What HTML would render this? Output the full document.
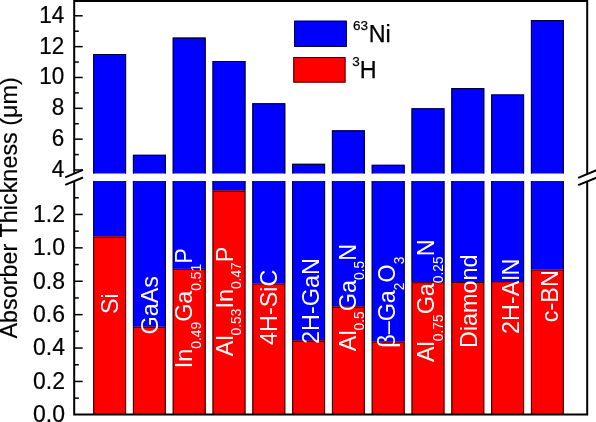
<!DOCTYPE html>
<html><head><meta charset="utf-8"><title>Absorber Thickness</title>
<style>
html,body{margin:0;padding:0;background:#fff;}
svg{display:block;font-family:"Liberation Sans", Arial, sans-serif;}
</style></head><body>
<svg width="596" height="422" viewBox="0 0 596 422">
<rect x="0" y="0" width="596" height="422" fill="#fff"/>
<rect x="93.10" y="54.00" width="33.0" height="119.50" fill="#0000ff"/>
<path d="M93.65 173.5 V54.55 H125.55 V173.5" fill="none" stroke="#000038" stroke-width="1.1"/>
<rect x="93.10" y="181.0" width="33.0" height="55.40" fill="#0000ff"/>
<path d="M93.65 181.0 V236.40 M125.55 181.0 V236.40" fill="none" stroke="#000038" stroke-width="1.1"/>
<rect x="93.10" y="236.40" width="33.0" height="178.20" fill="#ff0000"/>
<path d="M93.65 414.6 V236.95 H125.55 V414.6" fill="none" stroke="#380000" stroke-width="1.1"/>
<rect x="132.90" y="154.80" width="33.0" height="18.70" fill="#0000ff"/>
<path d="M133.45 173.5 V155.35 H165.35 V173.5" fill="none" stroke="#000038" stroke-width="1.1"/>
<rect x="132.90" y="181.0" width="33.0" height="145.80" fill="#0000ff"/>
<path d="M133.45 181.0 V326.80 M165.35 181.0 V326.80" fill="none" stroke="#000038" stroke-width="1.1"/>
<rect x="132.90" y="326.80" width="33.0" height="87.80" fill="#ff0000"/>
<path d="M133.45 414.6 V327.35 H165.35 V414.6" fill="none" stroke="#380000" stroke-width="1.1"/>
<rect x="172.70" y="37.60" width="33.0" height="135.90" fill="#0000ff"/>
<path d="M173.25 173.5 V38.15 H205.15 V173.5" fill="none" stroke="#000038" stroke-width="1.1"/>
<rect x="172.70" y="181.0" width="33.0" height="87.90" fill="#0000ff"/>
<path d="M173.25 181.0 V268.90 M205.15 181.0 V268.90" fill="none" stroke="#000038" stroke-width="1.1"/>
<rect x="172.70" y="268.90" width="33.0" height="145.70" fill="#ff0000"/>
<path d="M173.25 414.6 V269.45 H205.15 V414.6" fill="none" stroke="#380000" stroke-width="1.1"/>
<rect x="212.50" y="61.00" width="33.0" height="112.50" fill="#0000ff"/>
<path d="M213.05 173.5 V61.55 H244.95 V173.5" fill="none" stroke="#000038" stroke-width="1.1"/>
<rect x="212.50" y="181.0" width="33.0" height="9.60" fill="#0000ff"/>
<path d="M213.05 181.0 V190.60 M244.95 181.0 V190.60" fill="none" stroke="#000038" stroke-width="1.1"/>
<rect x="212.50" y="190.60" width="33.0" height="224.00" fill="#ff0000"/>
<path d="M213.05 414.6 V191.15 H244.95 V414.6" fill="none" stroke="#380000" stroke-width="1.1"/>
<rect x="252.30" y="103.20" width="33.0" height="70.30" fill="#0000ff"/>
<path d="M252.85 173.5 V103.75 H284.75 V173.5" fill="none" stroke="#000038" stroke-width="1.1"/>
<rect x="252.30" y="181.0" width="33.0" height="102.50" fill="#0000ff"/>
<path d="M252.85 181.0 V283.50 M284.75 181.0 V283.50" fill="none" stroke="#000038" stroke-width="1.1"/>
<rect x="252.30" y="283.50" width="33.0" height="131.10" fill="#ff0000"/>
<path d="M252.85 414.6 V284.05 H284.75 V414.6" fill="none" stroke="#380000" stroke-width="1.1"/>
<rect x="292.10" y="163.80" width="33.0" height="9.70" fill="#0000ff"/>
<path d="M292.65 173.5 V164.35 H324.55 V173.5" fill="none" stroke="#000038" stroke-width="1.1"/>
<rect x="292.10" y="181.0" width="33.0" height="159.60" fill="#0000ff"/>
<path d="M292.65 181.0 V340.60 M324.55 181.0 V340.60" fill="none" stroke="#000038" stroke-width="1.1"/>
<rect x="292.10" y="340.60" width="33.0" height="74.00" fill="#ff0000"/>
<path d="M292.65 414.6 V341.15 H324.55 V414.6" fill="none" stroke="#380000" stroke-width="1.1"/>
<rect x="331.90" y="130.30" width="33.0" height="43.20" fill="#0000ff"/>
<path d="M332.45 173.5 V130.85 H364.35 V173.5" fill="none" stroke="#000038" stroke-width="1.1"/>
<rect x="331.90" y="181.0" width="33.0" height="125.60" fill="#0000ff"/>
<path d="M332.45 181.0 V306.60 M364.35 181.0 V306.60" fill="none" stroke="#000038" stroke-width="1.1"/>
<rect x="331.90" y="306.60" width="33.0" height="108.00" fill="#ff0000"/>
<path d="M332.45 414.6 V307.15 H364.35 V414.6" fill="none" stroke="#380000" stroke-width="1.1"/>
<rect x="371.70" y="164.80" width="33.0" height="8.70" fill="#0000ff"/>
<path d="M372.25 173.5 V165.35 H404.15 V173.5" fill="none" stroke="#000038" stroke-width="1.1"/>
<rect x="371.70" y="181.0" width="33.0" height="160.50" fill="#0000ff"/>
<path d="M372.25 181.0 V341.50 M404.15 181.0 V341.50" fill="none" stroke="#000038" stroke-width="1.1"/>
<rect x="371.70" y="341.50" width="33.0" height="73.10" fill="#ff0000"/>
<path d="M372.25 414.6 V342.05 H404.15 V414.6" fill="none" stroke="#380000" stroke-width="1.1"/>
<rect x="411.50" y="108.20" width="33.0" height="65.30" fill="#0000ff"/>
<path d="M412.05 173.5 V108.75 H443.95 V173.5" fill="none" stroke="#000038" stroke-width="1.1"/>
<rect x="411.50" y="181.0" width="33.0" height="101.20" fill="#0000ff"/>
<path d="M412.05 181.0 V282.20 M443.95 181.0 V282.20" fill="none" stroke="#000038" stroke-width="1.1"/>
<rect x="411.50" y="282.20" width="33.0" height="132.40" fill="#ff0000"/>
<path d="M412.05 414.6 V282.75 H443.95 V414.6" fill="none" stroke="#380000" stroke-width="1.1"/>
<rect x="451.30" y="88.10" width="33.0" height="85.40" fill="#0000ff"/>
<path d="M451.85 173.5 V88.65 H483.75 V173.5" fill="none" stroke="#000038" stroke-width="1.1"/>
<rect x="451.30" y="181.0" width="33.0" height="101.00" fill="#0000ff"/>
<path d="M451.85 181.0 V282.00 M483.75 181.0 V282.00" fill="none" stroke="#000038" stroke-width="1.1"/>
<rect x="451.30" y="282.00" width="33.0" height="132.60" fill="#ff0000"/>
<path d="M451.85 414.6 V282.55 H483.75 V414.6" fill="none" stroke="#380000" stroke-width="1.1"/>
<rect x="491.10" y="94.40" width="33.0" height="79.10" fill="#0000ff"/>
<path d="M491.65 173.5 V94.95 H523.55 V173.5" fill="none" stroke="#000038" stroke-width="1.1"/>
<rect x="491.10" y="181.0" width="33.0" height="100.10" fill="#0000ff"/>
<path d="M491.65 181.0 V281.10 M523.55 181.0 V281.10" fill="none" stroke="#000038" stroke-width="1.1"/>
<rect x="491.10" y="281.10" width="33.0" height="133.50" fill="#ff0000"/>
<path d="M491.65 414.6 V281.65 H523.55 V414.6" fill="none" stroke="#380000" stroke-width="1.1"/>
<rect x="530.90" y="20.10" width="33.0" height="153.40" fill="#0000ff"/>
<path d="M531.45 173.5 V20.65 H563.35 V173.5" fill="none" stroke="#000038" stroke-width="1.1"/>
<rect x="530.90" y="181.0" width="33.0" height="88.40" fill="#0000ff"/>
<path d="M531.45 181.0 V269.40 M563.35 181.0 V269.40" fill="none" stroke="#000038" stroke-width="1.1"/>
<rect x="530.90" y="269.40" width="33.0" height="145.20" fill="#ff0000"/>
<path d="M531.45 414.6 V269.95 H563.35 V414.6" fill="none" stroke="#380000" stroke-width="1.1"/>
<text transform="translate(117.50,314) rotate(-90) scale(1,1.04)" font-size="23.4" fill="#fff">Si</text>
<text transform="translate(158.10,334.5) rotate(-90) scale(1,1.04)" font-size="23.4" fill="#fff">GaAs</text>
<text transform="translate(191.90,368.2) rotate(-90) scale(1,1.04)" font-size="23.4" fill="#fff">In<tspan font-size="13.8" dy="8.6">0.49</tspan><tspan dy="-8.6">Ga</tspan><tspan font-size="13.8" dy="8.6">0.51</tspan><tspan dy="-8.6">P</tspan></text>
<text transform="translate(232.50,356.2) rotate(-90) scale(1,1.04)" font-size="23.4" fill="#fff">Al<tspan font-size="13.8" dy="8.6">0.53</tspan><tspan dy="-8.6">In</tspan><tspan font-size="13.8" dy="8.6">0.47</tspan><tspan dy="-8.6">P</tspan></text>
<text transform="translate(276.50,345) rotate(-90) scale(1,1.04)" font-size="23.4" fill="#fff">4H-SiC</text>
<text transform="translate(318.80,344) rotate(-90) scale(1,1.04)" font-size="23.4" fill="#fff">2H-GaN</text>
<text transform="translate(355.50,351.2) rotate(-90) scale(1,1.04)" font-size="23.4" fill="#fff">Al<tspan font-size="13.8" dy="8.6">0.5</tspan><tspan dy="-8.6">Ga</tspan><tspan font-size="13.8" dy="8.6">0.5</tspan><tspan dy="-8.6">N</tspan></text>
<text transform="translate(395.00,347.8) rotate(-90) scale(1,1.04)" font-size="23.4" fill="#fff">β–Ga<tspan font-size="13.8" dy="8.6">2</tspan><tspan dy="-8.6">O</tspan><tspan font-size="13.8" dy="8.6">3</tspan></text>
<text transform="translate(433.90,362) rotate(-90) scale(1,1.04)" font-size="23.4" fill="#fff">Al<tspan font-size="13.8" dy="8.6">0.75</tspan><tspan dy="-8.6">Ga</tspan><tspan font-size="13.8" dy="8.6">0.25</tspan><tspan dy="-8.6">N</tspan></text>
<text transform="translate(477.10,348) rotate(-90) scale(1,1.04)" font-size="23.4" fill="#fff">Diamond</text>
<text transform="translate(519.40,333.9) rotate(-90) scale(1,1.04)" font-size="23.4" fill="#fff">2H-AlN</text>
<text transform="translate(558.00,322.2) rotate(-90) scale(1,1.04)" font-size="23.4" fill="#fff">c-BN</text>
<g stroke="#000" stroke-width="2.0" fill="none" stroke-linecap="butt">
<path d="M74.2 415.6 V0.9 M73.2 0.9 H588.2 M587.2 0.9 V415.6 M73.2 414.6 H588.2"/>
</g>
<g stroke="#000" stroke-width="1.5" fill="none">
<path d="M74.2 170.00 h8.5"/>
<path d="M74.2 139.16 h8.5"/>
<path d="M74.2 108.32 h8.5"/>
<path d="M74.2 77.48 h8.5"/>
<path d="M74.2 46.64 h8.5"/>
<path d="M74.2 15.80 h8.5"/>
<path d="M74.2 154.58 h4.6"/>
<path d="M74.2 123.74 h4.6"/>
<path d="M74.2 92.90 h4.6"/>
<path d="M74.2 62.06 h4.6"/>
<path d="M74.2 31.22 h4.6"/>
<path d="M74.2 381.45 h8.5"/>
<path d="M74.2 348.05 h8.5"/>
<path d="M74.2 314.65 h8.5"/>
<path d="M74.2 281.25 h8.5"/>
<path d="M74.2 247.85 h8.5"/>
<path d="M74.2 214.45 h8.5"/>
<path d="M74.2 398.15 h4.6"/>
<path d="M74.2 364.75 h4.6"/>
<path d="M74.2 331.35 h4.6"/>
<path d="M74.2 297.95 h4.6"/>
<path d="M74.2 264.55 h4.6"/>
<path d="M74.2 231.15 h4.6"/>
<path d="M74.2 197.75 h4.6"/>
</g>
<rect x="72.2" y="174" width="4" height="7" fill="#fff"/>
<rect x="585.2" y="174" width="4" height="7" fill="#fff"/>
<g stroke="#000" stroke-width="2">
<path d="M65.2 177.3 L83 169.8 M65.2 184.9 L83 177.5"/>
<path d="M578.2 177.8 L597 170 M578.2 185.2 L597 177.4"/>
</g>
<g font-size="23" text-anchor="end" fill="#000" stroke="#000" stroke-width="0.2">
<text transform="translate(64.3,176.90) scale(1,1.04)" font-size="22.5">4</text>
<text transform="translate(64.3,146.06) scale(1,1.04)" font-size="22.5">6</text>
<text transform="translate(64.3,115.22) scale(1,1.04)" font-size="22.5">8</text>
<text transform="translate(64.3,84.38) scale(1,1.04)" font-size="22.5">10</text>
<text transform="translate(64.3,53.54) scale(1,1.04)" font-size="22.5">12</text>
<text transform="translate(64.3,22.70) scale(1,1.04)" font-size="22.5">14</text>
<text transform="translate(65.0,422.15) scale(1,1.03)">0.0</text>
<text transform="translate(65.0,388.75) scale(1,1.03)">0.2</text>
<text transform="translate(65.0,355.35) scale(1,1.03)">0.4</text>
<text transform="translate(65.0,321.95) scale(1,1.03)">0.6</text>
<text transform="translate(65.0,288.55) scale(1,1.03)">0.8</text>
<text transform="translate(65.0,255.15) scale(1,1.03)">1.0</text>
<text transform="translate(65.0,221.75) scale(1,1.03)">1.2</text>
</g>
<text transform="translate(16.8,338.5) rotate(-90)" font-size="23.4" fill="#000" stroke="#000" stroke-width="0.15">Absorber Thickness (μm)</text>
<rect x="294.1" y="20.7" width="52.70" height="26.20" fill="#0000ff"/>
<rect x="294.6" y="21.2" width="51.70" height="25.20" fill="none" stroke="#000040" stroke-width="1"/>
<rect x="293.3" y="57.0" width="52.20" height="25.60" fill="#ff0000"/>
<rect x="293.8" y="57.5" width="51.20" height="24.60" fill="none" stroke="#400000" stroke-width="1"/>
<text x="353" y="41.7" font-size="23.3" fill="#000" stroke="#000" stroke-width="0.25"><tspan font-size="13.5" dy="-11.5">63</tspan><tspan dy="11.5" dx="0.6">Ni</tspan></text>
<text x="352.3" y="77.6" font-size="23.3" fill="#000" stroke="#000" stroke-width="0.25"><tspan font-size="13.5" dy="-11.5">3</tspan><tspan dy="11.5">H</tspan></text>
</svg></body></html>
